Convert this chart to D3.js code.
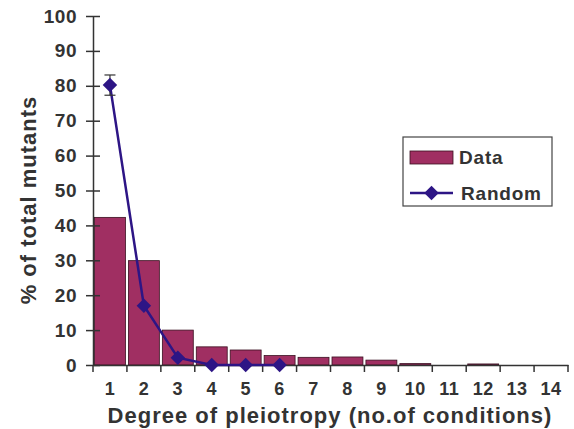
<!DOCTYPE html>
<html>
<head>
<meta charset="utf-8">
<script src="https://cdn.jsdelivr.net/npm/d3@7"></script>
<style>
body { margin:0; background:#fff; }
text { font-family: "Liberation Sans", Arial, sans-serif; }
</style>
</head>
<body>
<div id="chart"></div>
<script>
var categories = [1,2,3,4,5,6,7,8,9,10,11,12,13,14];
var dataValues = [42.3,29.9,10,5.2,4.3,2.7,2.2,2.3,1.4,0.4,0,0.3,0,0];
var randomCats = [1,2,3,4,5,6];
var randomValues = [80.2,17,2.1,0,0,0];
var randomErr = [2.9,0,0,0,0,0];
var yTicks = [0,10,20,30,40,50,60,70,80,90,100];

var margin = {top:16,right:6,bottom:64,left:93};
var width = 574 - margin.left - margin.right;
var height = 429 - margin.top - margin.bottom;

var barColor = "#a02f62";
var lineColor = "#2d1585";
var diamond = d3.symbol().type(d3.symbolSquare).size(105);

var svg = d3.select("#chart").append("svg")
    .attr("width", 574)
    .attr("height", 429)
    .append("g")
    .attr("transform","translate("+margin.left+","+margin.top+")");

var x = d3.scaleBand()
    .domain(categories)
    .range([0,width])
    .paddingInner(0)
    .paddingOuter(0);

var y = d3.scaleLinear()
    .domain([0,100])
    .range([height,0]);

// bars
svg.selectAll(".bar")
    .data(dataValues)
    .enter()
    .append("rect")
    .attr("class","bar")
    .attr("x",(d,i)=>x(categories[i])+1.5)
    .attr("width",x.bandwidth()-3)
    .attr("y",d=>y(d))
    .attr("height",d=>height-y(d))
    .style("fill",barColor)
    .style("stroke","#3a1020")
    .style("stroke-width",0.8);

// y axis
var yAxis = d3.axisLeft(y).tickValues(yTicks).tickSize(0).tickPadding(16);
var gy = svg.append("g").call(yAxis);
gy.select(".domain").attr("stroke","#333").attr("stroke-width",1.5);
gy.selectAll(".tick line").remove();
gy.selectAll(".tick").append("line")
    .attr("x1",-7).attr("x2",7)
    .attr("stroke","#333").attr("stroke-width",1.5);
gy.selectAll("text")
    .style("font-size","19px")
    .style("font-weight","bold")
    .style("letter-spacing","0.5px")
    .attr("fill","#333");

// x axis
var xAxis = d3.axisBottom(x).tickSize(0).tickPadding(17);
var gx = svg.append("g")
    .attr("transform","translate(0,"+height+")")
    .call(xAxis);
gx.select(".domain").attr("stroke","#333").attr("stroke-width",1.5);
gx.selectAll("text")
    .style("font-size","18px")
    .style("font-weight","bold")
    .style("letter-spacing","0.5px")
    .attr("fill","#333");
gx.selectAll(".bticks")
    .data(d3.range(categories.length+1))
    .enter()
    .append("line")
    .attr("x1",i=>i*x.step()).attr("x2",i=>i*x.step())
    .attr("y1",0).attr("y2",7)
    .attr("stroke","#333").attr("stroke-width",1.5);

// random line
var line = d3.line()
    .x((d,i)=>x(randomCats[i])+x.bandwidth()/2)
    .y(d=>y(d));
svg.append("path")
    .datum(randomValues)
    .attr("d",line)
    .attr("fill","none")
    .attr("stroke",lineColor)
    .attr("stroke-width",2.5);

// error bar
svg.selectAll(".err")
    .data(randomValues.map((v,i)=>[v,randomErr[i],randomCats[i]]).filter(d=>d[1]>0))
    .enter()
    .append("g")
    .each(function(d){
        var cx = x(d[2])+x.bandwidth()/2;
        var g = d3.select(this);
        g.append("line").attr("x1",cx).attr("x2",cx).attr("y1",y(d[0]+d[1])).attr("y2",y(d[0]-d[1]))
            .attr("stroke","#333").attr("stroke-width",1.2);
        [d[0]+d[1],d[0]-d[1]].forEach(function(v){
            g.append("line").attr("x1",cx-5.5).attr("x2",cx+5.5).attr("y1",y(v)).attr("y2",y(v))
                .attr("stroke","#333").attr("stroke-width",1.2);
        });
    });

// diamonds
svg.selectAll(".pt")
    .data(randomValues)
    .enter()
    .append("path")
    .attr("transform",(d,i)=>"translate("+(x(randomCats[i])+x.bandwidth()/2)+","+y(d)+") rotate(45)")
    .attr("d",diamond)
    .attr("fill",lineColor);

// axis titles
svg.append("text")
    .attr("transform","rotate(-90)")
    .attr("x",-(200-margin.top))
    .attr("y",-57)
    .style("text-anchor","middle")
    .style("font-size","22px")
    .style("font-weight","bold")
    .style("letter-spacing","1px")
    .attr("fill","#333")
    .text("% of total mutants");

svg.append("text")
    .attr("x",330-margin.left)
    .attr("y",423-margin.top)
    .style("text-anchor","middle")
    .style("font-size","22px")
    .style("font-weight","bold")
    .style("letter-spacing","1px")
    .attr("fill","#333")
    .text("Degree of pleiotropy (no.of conditions)");

// legend
var lg = svg.append("g").attr("transform","translate("+(403-margin.left)+","+(137-margin.top)+")");
lg.append("rect").attr("width",149).attr("height",69)
    .attr("fill","#fff").attr("stroke","#444").attr("stroke-width",1.2);
lg.append("rect").attr("x",7).attr("y",14).attr("width",43).attr("height",13)
    .attr("fill",barColor).attr("stroke","#3a1020").attr("stroke-width",0.8);
lg.append("text").attr("x",56).attr("y",27).text("Data")
    .style("font-size","19px").style("font-weight","bold").style("letter-spacing","0.8px").attr("fill","#333");
lg.append("line").attr("x1",7).attr("x2",50).attr("y1",56).attr("y2",56)
    .attr("stroke",lineColor).attr("stroke-width",2.5);
lg.append("path").attr("transform","translate(28.5,56) rotate(45)")
    .attr("d",diamond)
    .attr("fill",lineColor);
lg.append("text").attr("x",58).attr("y",63).text("Random")
    .style("font-size","19px").style("font-weight","bold").style("letter-spacing","0.8px").attr("fill","#333");
</script>
</body>
</html>
